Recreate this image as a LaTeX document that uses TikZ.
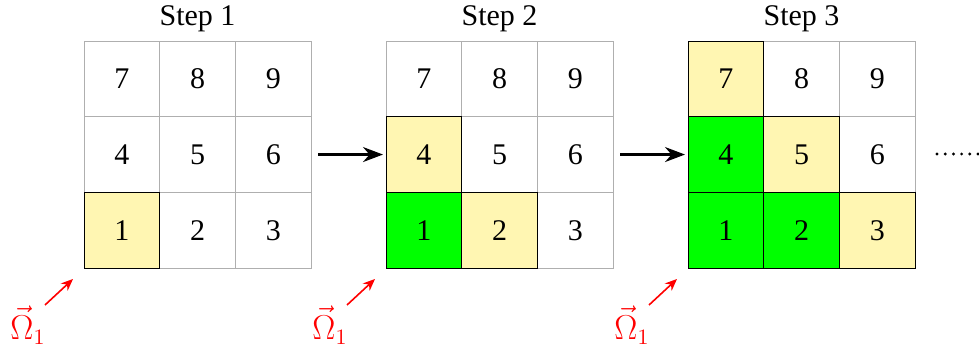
\documentclass[tikz,border=0pt]{standalone}
\usepackage{fontspec}
\setmainfont{Liberation Serif}
\usetikzlibrary{arrows.meta}
\definecolor{cellyellow}{RGB}{255,246,178}
\definecolor{cellgreen}{RGB}{0,255,0}
\definecolor{gridgray}{RGB}{175,175,175}
\begin{document}
\begin{tikzpicture}[x=0.5pt,y=-0.5pt,
  cell/.style={minimum size=37.85pt, inner sep=0pt, outer sep=0pt,
    font=\fontsize{15}{18}\selectfont, draw=gridgray, line width=0.45pt},
  plaincell/.style={cell, fill=white},
  ycell/.style={cell, fill=cellyellow, draw=black},
  gcell/.style={cell, fill=cellgreen, draw=black},
  title/.style={font=\fontsize{15}{18}\selectfont, anchor=base},
  steparrow/.style={line width=1.1pt, -{Stealth[length=10pt,width=7.5pt]}},
  redarrow/.style={red, line width=0.8pt, -{Stealth[length=6pt,width=5pt]}},
  omega/.style={red, font=\fontsize{16}{19}\selectfont, inner sep=0pt},
  dotline/.style={line width=1.6pt, line cap=round, dash pattern=on 0pt off 4.1pt}
]
\useasboundingbox (0,0) rectangle (979,352);
% plain cells
\foreach \s/\n in {1/7,1/8,1/9,1/4,1/5,1/6,1/2,1/3,
                   2/7,2/8,2/9,2/5,2/6,2/3,
                   3/8,3/9,3/6}{
  \pgfmathsetmacro\col{mod(\n-1,3)}
  \pgfmathsetmacro\row{2-int((\n-1)/3)}
  \node[plaincell] (s\s n\n) at ({84+302*(\s-1)+75.7*(\col+0.5)},{41+75.7*(\row+0.5)}) {\n};
}
% coloured cells
\foreach \s/\n/\st in {1/1/ycell,
                       2/4/ycell,2/1/gcell,2/2/ycell,
                       3/7/ycell,3/4/gcell,3/5/ycell,3/1/gcell,3/2/gcell,3/3/ycell}{
  \pgfmathsetmacro\col{mod(\n-1,3)}
  \pgfmathsetmacro\row{2-int((\n-1)/3)}
  \node[\st] (s\s n\n) at ({84+302*(\s-1)+75.7*(\col+0.5)},{41+75.7*(\row+0.5)}) {\n};
}
% titles, omega labels and red arrows
\foreach \s in {1,2,3}{
  \node[title] (t\s) at ({84+302*(\s-1)+113.5},26) {Step \s};
  \node[omega] (o\s) at ({28+302*(\s-1)},325) {$\vec{\Omega}_1$};
  \coordinate (rt\s) at ({45+302*(\s-1)},305);
  \coordinate (rh\s) at ({73+302*(\s-1)},279);
  \draw[redarrow] (rt\s) -- (rh\s);
}
% step arrows
\draw[steparrow] ([xshift=3.5pt]s1n6.east) -- ([xshift=-1.5pt]s2n4.west);
\draw[steparrow] ([xshift=3.5pt]s2n6.east) -- ([xshift=-1.5pt]s3n4.west);
% dots
\coordinate (d0) at (937,154);
\coordinate (d1) at (979,154);
\draw[dotline] (d0) -- (d1);
\end{tikzpicture}
\end{document}
